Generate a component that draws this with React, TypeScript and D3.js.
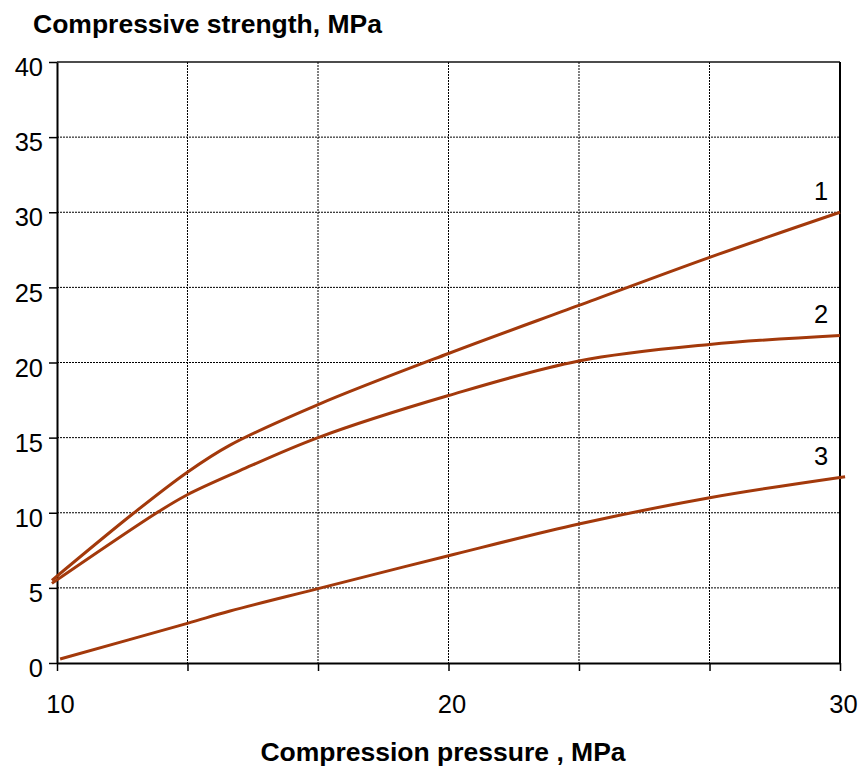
import { useEffect, useRef } from "react";
import * as d3 from "d3";

// pressure (MPa) vs compressive strength (MPa)
const curve1X = [9.87, 11.97, 13.33, 14.42, 16.67, 20, 23.33, 26.67, 30];
const curve1Y = [5.5, 10, 12.7, 14.5, 17.2, 20.6, 23.8, 27.0, 30.0];
const curve2X = [9.87, 12.55, 13.33, 14.67, 16.67, 20, 23.33, 26.67, 30];
const curve2Y = [5.3, 10, 11.2, 12.8, 15.0, 17.8, 20.1, 21.2, 21.8];
const curve3X = [10.08, 13.33, 14.42, 16.67, 20, 23.33, 26.67, 30.13];
const curve3Y = [0.27, 2.64, 3.46, 4.95, 7.14, 9.25, 11.0, 12.4];
const curveNames = ["1", "2", "3"];

const xTickLabels = [10, 20, 30];
const xGridValues = [10, 13.333, 16.667, 20, 23.333, 26.667, 30];
const yTickValues = [0, 5, 10, 15, 20, 25, 30, 35, 40];

const App = () => {
    const ref = useRef<SVGSVGElement>(null);

    useEffect(() => {
        const width = 864;
        const height = 769;
        const margin = { top: 62, right: 24, bottom: 106, left: 57 };
        const font = "'Liberation Sans', Arial, sans-serif";
        const lineColor = "#a3390b";

        const svg = d3.select(ref.current)
            .attr("width", width)
            .attr("height", height);
        svg.selectAll("*").remove();

        const x = d3.scaleLinear()
            .domain([10, 30])
            .range([margin.left, width - margin.right]);

        const y = d3.scaleLinear()
            .domain([0, 40])
            .range([height - margin.bottom, margin.top]);

        const x0 = x(10), x1 = x(30), y0 = y(0), y1 = y(40);

        // dotted grid
        svg.append("g")
            .selectAll("line")
            .data(xGridValues.slice(1, -1))
            .join("line")
            .attr("x1", d => x(d)).attr("x2", d => x(d))
            .attr("y1", y1).attr("y2", y0)
            .attr("stroke", "#000")
            .attr("stroke-width", 1)
            .attr("stroke-dasharray", "2,1");

        svg.append("g")
            .selectAll("line")
            .data(yTickValues.slice(1, -1))
            .join("line")
            .attr("x1", x0).attr("x2", x1)
            .attr("y1", d => y(d)).attr("y2", d => y(d))
            .attr("stroke", "#000")
            .attr("stroke-width", 1)
            .attr("stroke-dasharray", "2,1");

        // frame
        svg.append("line")
            .attr("x1", x0).attr("x2", x1).attr("y1", y1).attr("y2", y1)
            .attr("stroke", "#111").attr("stroke-width", 1.5);
        svg.append("line")
            .attr("x1", x1).attr("x2", x1).attr("y1", y1).attr("y2", y0)
            .attr("stroke", "#000").attr("stroke-width", 2);

        // y axis
        const yAxis = d3.axisLeft(y)
            .tickValues(yTickValues)
            .tickSize(8)
            .tickSizeOuter(0)
            .tickFormat(d3.format("d"));

        const gy = svg.append("g")
            .attr("transform", `translate(${x0},0)`)
            .call(yAxis);
        gy.select(".domain").attr("stroke", "#000").attr("stroke-width", 2);
        gy.selectAll(".tick line").attr("stroke", "#000").attr("stroke-width", 1.5);
        gy.selectAll(".tick text")
            .attr("x", -14)
            .attr("dy", "0.85em")
            .attr("y", -8)
            .attr("fill", "#000")
            .style("font-family", font)
            .style("font-size", "25.5px");

        // x axis
        const xAxis = d3.axisBottom(x)
            .tickValues(xGridValues)
            .tickSize(8)
            .tickSizeOuter(0)
            .tickFormat(d => (xTickLabels.includes(Math.round(+d * 1000) / 1000) ? String(d) : ""));

        const gx = svg.append("g")
            .attr("transform", `translate(0,${y0})`)
            .call(xAxis);
        gx.select(".domain").attr("stroke", "#000").attr("stroke-width", 2);
        gx.selectAll(".tick line").attr("stroke", "#000").attr("stroke-width", 1.5);
        gx.selectAll(".tick text")
            .attr("y", 50)
            .attr("dy", 0)
            .attr("dx", 3)
            .attr("fill", "#000")
            .style("font-family", font)
            .style("font-size", "25.5px");

        // curves
        const xs = [curve1X, curve2X, curve3X];
        const ys = [curve1Y, curve2Y, curve3Y];
        const line = d3.line<[number, number]>()
            .x(d => x(d[0]))
            .y(d => y(d[1]))
            .curve(d3.curveCatmullRom.alpha(0.5));

        xs.forEach((cx, i) => {
            const pts = cx.map((v, j) => [v, ys[i][j]] as [number, number]);
            svg.append("path")
                .datum(pts)
                .attr("fill", "none")
                .attr("stroke", lineColor)
                .attr("stroke-width", 3)
                .attr("d", line);

            const last = pts[pts.length - 1];
            svg.append("text")
                .attr("x", x(30) - 19)
                .attr("y", y(last[1]) - 12)
                .attr("text-anchor", "middle")
                .style("font-family", font)
                .style("font-size", "25.5px")
                .text(curveNames[i]);
        });

        // axis titles
        svg.append("text")
            .attr("x", 33)
            .attr("y", 33)
            .style("font-family", font)
            .style("font-size", "26.5px")
            .style("font-weight", "bold")
            .text("Compressive strength, MPa");

        svg.append("text")
            .attr("x", 443)
            .attr("y", 761)
            .attr("text-anchor", "middle")
            .style("font-family", font)
            .style("font-size", "26.5px")
            .style("font-weight", "bold")
            .text("Compression pressure , MPa");
    }, []);

    return <svg ref={ref} style={{ position: "absolute", left: 0, top: 0, background: "#fff" }} />;
};

export default App;
